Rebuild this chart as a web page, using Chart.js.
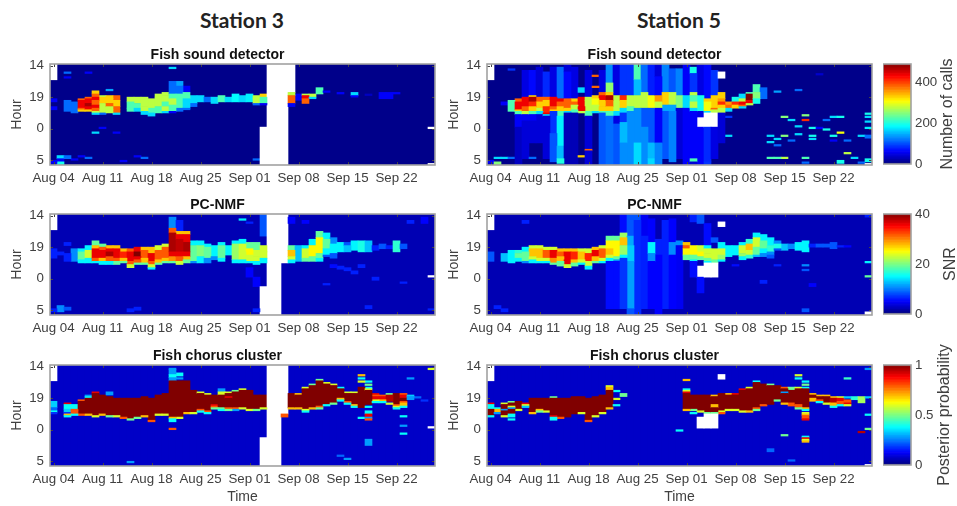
<!DOCTYPE html>
<html><head><meta charset="utf-8">
<script src="https://cdn.jsdelivr.net/npm/chart.js@4"></script>
<style>
html,body{margin:0;padding:0;background:#fff;width:957px;height:506px;overflow:hidden}
canvas{position:absolute;filter:blur(.4px)}
.st{position:absolute;top:7px;width:200px;text-align:center;font:bold 21px Lato,sans-serif;color:#222}
</style></head><body>
<div class="st" style="left:142px">Station 3</div>
<div class="st" style="left:579px">Station 5</div>
<script>
// Each column is one day; each entry "a-b:v" = quarter-hour bins a..b from the top of the axis, colour level v (0-9), w = no data
const dateTicks=["Aug 04","Aug 11","Aug 18","Aug 25","Sep 01","Sep 08","Sep 15","Sep 22"];
const hourTicks=[14,19,24,29];
const hourNames=["14","19","0","5"];
const detector3=[
"0-10:w 22-24:1 27-29:1 61-63:1","58-60:3 60-62:1 62-64:3.5","5-6:2 8-9:1 23-30:2 58-60:2","24-31:2 60-61:1",
"22-23:7 23-28:8 28-29:7 29-30:6 58-59:1","5-6:1 21-22:7 22-25:8 25-27:8.6 27-29:8 29-30:6 59-60:2","17-19:6 19-21:7 21-23:8 23-26:7 26-28:8 28-30:7 30-31:5 31-32:3 43-44:3","20-21:5 21-25:6 25-29:5 29-31:5 31-32:2 40-41:1",
"16-17:2.5 20-22:6 22-25:6 25-27:7 27-29:5 29-31:5","20-23:7 23-27:6 27-29:7 29-31:7 31-32:3 43-44:1","61-62:1","21-24:5 24-28:4 28-30:4",
"21-25:5 25-28:4 28-30:3 58-59:1","21-23:5 23-27:5 27-30:5 30-32:3 59-60:2","22-28:5 28-31:4 31-33:3","19-21:5 21-27:5 27-31:4",
"18-20:5 20-24:5 24-27:4 27-30:5 30-31:3","2-3:3 11-19:2 19-22:4 22-26:5 26-30:4 30-31:1","11-14:2.5 14-19:2 19-28:4 28-30:2","14-18:1 18-22:4 22-28:3 28-29:2",
"20-25:3 25-27:2","20-24:3","21-24:2","21-25:3","20-24:4","21-24:3","19-24:3.3","20-24:3","19-24:3.2",
"20-22:5 22-25:5 25-26:2 60-61:2","19-21:6 21-25:4 25-26:1 40-64:w","0-64:w","0-64:w","0-64:w",
"0-18:w 18-20:5 20-25:7 25-27:1","19-23:1","19-20:5 20-22:8 22-25:7","19-21:5 21-22:3","15-19:4","17-18:1","","18-19:1","","18-20:3 20-21:1","","19-20:.5","","18-22:1","18-22:1","18-19:1","","","","","40-41:w 63-64:w"
];
const nmf3=[
"0-10:w 22-28:1 60-62:1","24-26:1 58-62:2","18-20:1 25-30:1 59-61:1.5","22-30:2",
"22-24:3 24-29:4 29-31:3","20-23:3 23-28:5 28-31:3","17-20:4 20-22:6 22-28:8 28-30:7 30-31:3","19-21:4 21-23:7 23-28:8 28-30:6 30-32:3",
"20-22:6 22-24:8 24-27:8.6 27-30:7 30-32:3","20-22:6 22-28:8 28-30:7 30-32:4","22-24:6 24-28:7.5 28-30:6 30-31:4","22-24:7 24-30:8 30-32:7 32-34:5 60-62:1",
"21-24:8 24-27:9 27-29:8 29-31:7 31-32:4 59-61:1","21-23:6 23-28:7 28-31:6 31-32:4","21-25:6 25-30:8 30-32:7 32-34:5 34-35:3","20-23:5 23-29:7 29-31:6 31-32:4",
"19-21:5 21-28:7 28-30:6 30-31:4","2-9:2 9-12:7 12-24:8.6 24-27:8 27-30:6.5 30-31:4","4-11:1 11-13:6 13-16:8 16-24:8.4 24-27:8 27-30:7 30-32:5","11-13:6 13-18:8 18-24:8.6 24-27:8 27-29:6 29-31:4",
"17-20:3 20-30:4 30-31:2","17-20:3 20-27:4.3 27-31:3","19-21:3 21-28:4 28-31:2","20-27:3 27-29:2","18-20:3 20-28:4 28-30:3","20-26:3",
"17-19:3 19-29:4.5 29-31:3","3-4:3 16-19:3 19-24:5 24-29:5 29-31:3","5-6:1 18-22:4 22-26:5.5 26-30:5 30-31:3 34-40:.7","18-23:4 23-27:5 27-30:5 30-32:3 40-46:.7 60-62:1",
"0-14:1.5 20-24:5 24-28:5 28-31:3 46-64:w","0-64:w","0-64:w","0-31:w","20-23:4 23-27:6 27-29:5 29-31:3 2-6:.7",
"20-30:2.5","20-22:3 22-28:5 28-30:4 4-6:.7","16-20:3 20-27:5.5 27-30:4","11-15:4 15-25:5.5 25-28:4 28-30:3","12-16:3 16-22:4 22-26:3 26-27:1.5 44-45:1","15-19:2 19-25:3 25-28:1.5 32-34:.8","18-24:3 33-35:1",
"18-20:1.5 20-24:2.5 34-36:1","17-23:3 36-38:1","17-24:3.3 32-34:1","17-24:2.5 58-60:1","20-23:1 40-42:1","19-22:1.5","20-22:1","17-24:3.5","19-22:1.5 43-44:1","4-6:1","","2-6:.7","39-40:w 60-61:1"
];
const chorus3=[
"0-10:w 23-27:2.5 27-29:1.5 29-30:3 30-31:1","","24-25:8 25-28:3 28-30:2.5 30-31:1 31-32:6 32-33:3","25-26:3 26-28:3 28-29:7 29-31:7 31-32:3",
"22-23:7 23-31:9 31-32:7","19-20:2 20-21:3 21-31:9 31-32:6","17-18:8 18-32:9 32-33:5","19-31:9 31-32:6",
"17-19:2 20-32:9 32-33:4","21-32:9 32-33:5","21-33:9 33-34:7","21-34:9 34-35:4 61-62:2",
"21-33:9 33-34:4","20-32:9 32-33:6","21-35:9 35-36:7","19-31:9 31-32:5","18-31:9 31-32:5",
"2-3:2 3-6:2 6-8:3 8-10:2 10-33:9 33-34:6 34-36:3 40-41:7","5-7:3 8-9:2 10-33:9 33-34:5","10-30:9 30-31:6","16-30:9 30-31:5",
"17-18:5 18-28:9 28-29:7 29-30:3","18-19:5 19-29:9 29-30:7 30-31:3","19-25:9 25-26:8 26-27:7 27-28:4","15-17:2 17-19:5 19-27:9 27-28:4 28-29:3",
"17-18:5 18-20:9 20-21:8 21-27:9 27-28:7 28-29:4","16-17:4 17-27:9 27-28:7 28-29:2","15-16:5 16-27:9 27-28:5","16-28:9 28-29:5","19-28:9 28-29:4","19-27:9 27-28:5 46-64:w",
"0-64:w","0-64:w","0-31:w 31-33:7","18-27:9 27-28:6","18-19:6 19-27:9 27-28:6","14-15:5 15-28:9 28-29:5 29-30:3","12-13:4 13-27:9 27-28:6","9-10:4 10-26:9 26-27:7 27-28:4",
"11-12:5 12-25:9 25-26:3","12-13:5 13-24:9 24-25:4","14-15:3 15-21:9 21-22:6 22-23:3 57-58:1.5","17-18:5 18-23:9 23-24:7 24-25:3 59-60:2","17-18:5 18-25:9 25-26:6 26-27:3",
"6-7:6 8-9:3 10-11:5 14-27:9 33-34:3","10-11:3 12-13:4 14-15:3 15-16:5 16-25:9 26-27:3 29-31:3 31-33:8 33-34:2 34-35:7 47-51:2","18-19:8 19-20:7 20-22:8 22-23:5 23-24:3","19-20:7 20-22:8 22-23:6 23-24:3","18-19:4 19-23:8.5 24-25:5","18-25:9 25-26:7 26-27:5 27-28:3",
"18-19:7 19-21:8 21-23:9 23-24:7 24-26:6 26-27:3 32-33:3 38-39:2 43-44:3","8-9:2 19-20:2.5 20-22:2","20-21:1.5","22-23:1","2-3:5 39-40:w"
];
const detector5=[
"0-10:w 61-63:1","59-60:3 62-64:4.5","24-26:1 59-60:3","3-4:1.5 23-30:4 59-60:2",
"22-24:7 24-29:8 29-30:6 30-32:4 32-40:1 40-64:.5","4-21:.8 21-22:8 22-27:8 27-30:7 30-32:5 32-36:1 36-60:.7","4-20:1.1 20-21:6 21-24:8.6 24-27:7.5 27-30:6 30-32:4 32-36:1 36-50:.7 59-60:2","2-21:.7 21-24:7 24-28:6 28-30:5 30-32:3 32-50:.7",
"5-21:1.4 21-23:7 23-27:6 27-31:7.5 31-32:8 32-33:3 33-60:.7","2-21:.8 21-22:8 22-27:8 27-29:7 29-30:6 30-44:1.5 44-62:1.8","2-22:2 22-24:8 24-27:7 27-30:6 30-33:4 33-52:3.2 52-60:2.7 60-63:3.6","0-5:.7 5-22:1.1 22-24:7 24-28:7 28-30:6 30-31:3 31-64:.4",
"2-22:.8 22-24:6 24-26:7 26-29:5 29-31:4 31-64:.4","15-18:3 21-24:8 24-27:8 27-30:8 30-31:5 58-59:6","4-21:.8 21-23:5 23-30:5 30-33:4 33-54:.7 54-55:7 55-64:.7","7-8:7 14-15:7 20-22:6 22-26:5.5 26-30:5 30-31:3",
"4-18:.8 18-20:7 20-23:8 23-27:6 27-30:6 30-31:4 31-64:1.8","0-12:2.3 12-18:4.6 18-20:6 20-23:8.6 23-27:7 27-30:6 30-33:4 33-64:2","0-20:.8 20-30:5 30-33:3 33-38:.8 38-64:1.8","0-20:1.5 20-23:7.5 23-28:6 28-31:3 31-37:1.5 37-50:2.7 50-64:2.3",
"0-20:1.5 20-23:5 23-27:5 27-30:4 30-64:2.3","0-10:4 10-20:2.7 20-28:5 28-50:2.3 50-64:3","0-18:2 18-28:5 28-40:1.8 40-64:2.3","0-20:1.3 20-28:5.5 28-50:1.8 50-60:2.7 60-64:3",
"0-8:.7 8-20:1.1 20-24:6.5 24-28:5 28-50:1 50-64:2.2","0-18:2.2 18-26:6 26-30:2.5 30-60:1.8","3-18:1.8 18-26:5 26-30:2.5 30-62:2.2","3-20:2.2 20-28:4.5 28-60:.7",
"0-20:1 20-28:3 28-64:1","2-6:3.5 6-18:1.5 18-20:5 20-24:4 24-28:5 28-30:3 30-60:1 60-62:4 62-64:.7","0-20:.8 20-30:3.5 30-34:.8 34-40:w 40-64:1","0-22:1.1 22-24:6 24-30:5.5 30-31:3 31-40:w 40-62:1.4 62-64:1.5",
"4-20:1.5 20-28:6 28-29:7 29-31:5 31-40:w 40-60:.8","5-9:w 18-22:6 22-24:6.5 24-26:7.5 26-28:6 28-31:5 31-50:.7","24-26:6.5 26-28:7 28-30:3 33-34:1.5 45-46:3","21-24:3.5 24-26:7.5 26-28:6",
"19-22:3 22-24:5 24-26:8 26-27:7 27-28:3","18-19:4 19-23:9 23-25:8 25-26:5","13-18:4 18-22:4.5 22-25:3.5","15-22:2","45-46:3 49-50:3 59-60:4","17-18:2.5 47-48:3 51-52:2 59-60:4",
"33-34:4.5 45-46:4.5 59-60:5","35-36:3 48-49:2","16-17:2 39-40:3 44-45:3","32-33:4.5 35-36:7.5 59-60:4 62-63:2","40-41:3.5 45-46:3.5 47-48:3","6-7:.6 40-41:1","35-36:2 41-42:3.5",
"33-34:3 45-46:3.5 48-49:1","33-34:3.5 43-44:5.5 61-63:3.5","48-49:2 56-57:5","59-60:3","45-46:3 62-63:2","31-32:3.5 33-34:3 36-37:3 40-41:3.2 45-47:2 60-62:3.5 63-64:w"
];
const nmf5=[
"0-10:w 24-30:1.5","58-60:1","25-30:2.5 60-62:1","23-31:3",
"23-25:3.5 25-28:4 28-30:3","4-6:1 21-24:3 24-30:4 30-31:2","20-22:5 22-27:6 27-29:5 29-31:3","20-22:5 22-28:6 28-30:5 30-31:3",
"21-23:5 23-28:7 28-30:5 30-31:3","21-23:5 23-28:8 28-31:6.5 31-32:4","22-24:6 24-27:7 27-30:6 30-33:4","22-24:6 24-29:8 29-32:8 32-34:5",
"22-24:6 24-29:7.5 29-31:6 31-33:4","22-24:5 24-29:6 29-31:5 31-32:3","22-25:5 25-30:7.5 30-33:5 33-35:3","21-23:6 23-27:8 27-30:6 30-31:4",
"20-22:5 22-28:7 28-30:5 30-31:3","14-17:4 17-22:5.5 22-26:6 26-28:5 28-30:3 30-60:.8","14-17:4 17-27:5.5 27-29:4 29-30:2 30-60:.8","0-12:.8 12-15:4.5 15-20:6 20-26:4.5 26-28:3 28-60:1.2",
"0-14:1.5 14-20:2.3 20-30:2.6 30-60:2.2 60-64:1.5","0-4:1.5 4-64:1.1","0-14:.6 14-60:1","3-18:.7 18-25:3 25-30:2 30-60:.7","16-26:1 26-64:.7","4-60:1","3-18:.7 18-26:2 26-60:.7","17-20:2 20-60:.6",
"18-20:6 20-22:7 22-26:5.5 26-29:4","0-5:1 20-22:5.5 22-26:5.5 26-29:4 29-30:3 30-40:.8","0-6:1.5 20-24:5 24-27:5.5 27-29:4 33-40:w 40-50:.8","6-20:.8 20-22:3 22-25:5 25-28:5 28-30:4 30-31:3 31-40:w",
"15-18:1.5 22-26:5 26-29:5 29-31:4 31-40:w","5-8:w 18-22:3 22-26:5 26-29:4.5 29-30:3","20-27:3","20-26:3 32-33:.8","18-20:3 20-25:5 25-27:4.5 27-29:3","16-19:3.5 19-23:6 23-26:5 26-28:3.5","12-15:3 15-21:5 21-26:4 26-27:2.5",
"13-17:3 17-22:4 22-25:3 25-27:2 42-44:1","15-20:3 20-24:3.5 24-26:2 26-28:1.5","17-19:2 19-22:3.3 22-23:1.5 32-33:1","19-23:2.5","19-22:2","18-23:3","17-24:3 32-33:2 35-36:1.5 60-62:1.5",
"19-21:1 44-46:.7","19-21:1.5","19-21:1.5","18-22:1.5","20-21:1","20-21:.7","","","0-2:1 30-31:3 39-40:4 62-64:w"
];
const chorus5=[
"0-10:w 24-25:8 25-28:3 28-32:9 32-33:3","27-28:3 28-29:6 29-30:6 30-31:2","24-25:5 25-28:9 28-29:2 29-32:9 32-33:5","23-24:4 24-26:9 26-27:5 27-28:2 28-31:9 31-33:3 34-35:3",
"23-28:9 28-29:5","24-25:8 25-26:5 26-27:2.5","21-30:9 30-31:6","21-28:9 28-29:6 29-30:4","21-29:9 29-30:5","20-21:4 21-32:9 32-33:8 33-35:3",
"21-33:9 33-34:7","21-33:9","20-31:9","20-30:9 30-31:5","21-35:9 35-36:7","20-32:9 32-33:5","19-30:9 30-31:5","13-14:5 14-16:6 16-27:9 27-28:6","16-17:3 21-22:5 25-26:3","18-20:4",
"","","","","","","","41-42:3","9-10:6 15-16:3 16-17:5 17-18:8 18-28:9 28-29:6","19-28:9 28-29:4 30-31:3","19-29:9 29-30:5 33-40:w","19-30:9 30-31:4 31-40:w",
"19-20:6 20-25:9 25-27:6 27-30:9 30-31:4 31-40:w","6-9:w 18-29:9 29-30:5 30-31:7","18-19:6 19-28:9 28-29:5","18-19:8 19-28:9 28-29:5","15-16:8 16-29:9 29-30:5","14-15:5 15-29:9 29-30:6",
"10-11:3 11-27:9 27-28:7 28-29:4","12-25:9 25-26:7","12-13:4 13-25:9 53-55:1.5","13-22:9 22-23:4","14-15:7 15-17:9 17-18:2 18-24:9 24-25:6 44-45:4","14-16:4 16-24:9 24-26:7 60-61:1.5",
"6-7:5 8-9:3 14-15:5 15-25:9 25-27:7 27-28:4","10-11:3 12-13:4 14-15:3 15-27:9 27-28:6 28-29:3 30-31:5 31-32:6 32-34:7 34-35:8 45-46:3 46-47:8 47-48:5 48-49:6","18-19:6 19-21:9 21-23:6","19-20:6 20-22:9 22-23:7 23-24:3","19-20:6 20-24:9 24-25:5",
"20-21:6 21-24:8.5 24-26:6 26-27:3","20-21:5 21-23:8 23-25:7 25-26:3","8-9:3.5 20-21:2.5 22-24:7 24-25:8 25-26:5","20-22:3.3","20-24:4.5 42-43:8.5","2-3:2 20-21:2.5 31-32:3 40-41:4 63-64:w"
];
const barTicks=[[0,200,400],[0,20,40],[0,0.5,1]];
const barMax=[490,40,1];
const barNames=["Number of calls","SNR","Posterior probability"];
const barNameX=[948,951,945];
const panelTitles=["Fish sound detector","PC-NMF","Fish chorus cluster"];
const dayIndex=detector3.map((_,i)=>i);
const axisTop=13.75, axisBottom=29.75;

function jet(f){
  f=Math.max(0,Math.min(1,f));
  const c=t=>Math.round(255*Math.max(0,Math.min(1,1.5-Math.abs(4*f-t))));
  return `rgb(${c(3)},${c(2)},${c(1)})`;
}
const TXT='#404040',FONT='"Liberation Sans",Arial,sans-serif';
const frame={id:'frame',afterDatasetsDraw(ch){
  const {ctx,chartArea:a,scales}=ch;
  ctx.save();
  ctx.strokeStyle='#444';ctx.lineWidth=1;
  ctx.beginPath();
  const L=3;
  if(scales.x&&scales.x.options.display){
    scales.x.ticks.forEach((t,i)=>{ if(t.label==='')return;
      const p=Math.round(scales.x.getPixelForTick(i))+.5;
      ctx.moveTo(p,a.top);ctx.lineTo(p,a.top+L);ctx.moveTo(p,a.bottom);ctx.lineTo(p,a.bottom-L);});
    scales.y.ticks.forEach((t,i)=>{
      const p=Math.round(scales.y.getPixelForTick(i))+.5;
      ctx.moveTo(a.left,p);ctx.lineTo(a.left+L,p);ctx.moveTo(a.right,p);ctx.lineTo(a.right-L,p);});
  }
  ctx.stroke();
  ctx.strokeStyle='#a2a2a2';ctx.lineWidth=1.6;
  ctx.strokeRect(a.left,a.top,a.right-a.left,a.bottom-a.top);
  ctx.restore();
}};
function mk(left,top,w,h){
  const c=document.createElement('canvas');
  c.width=w;c.height=h;c.style.left=left+'px';c.style.top=top+'px';
  c.style.width=w+'px';c.style.height=h+'px';
  document.body.appendChild(c);return c;
}
function heat(left,top,title,cols,base,last){
  const parsed=cols.map(s=>s.trim()?s.trim().split(/\s+/).map(p=>{
    const m=p.match(/^(\d+)-(\d+):(.+)$/);
    return {a:axisTop+m[1]/4,b:axisTop+m[2]/4,v:m[3]==='w'?null:parseFloat(m[3])};}):[]);
  const depth=Math.max(...parsed.map(p=>p.length));
  const color=v=>v===null?'#ffffff':jet(base+v/9*(1-base));
  const datasets=[{order:1000,data:cols.map(()=>[axisTop,axisBottom]),backgroundColor:cols.map(()=>color(0))}];
  for(let k=0;k<depth;k++){
    datasets.push({
      order:depth-k,
      data:parsed.map(p=>p[k]?[p[k].a,p[k].b]:null),
      backgroundColor:parsed.map(p=>p[k]?color(p[k].v):'rgba(0,0,0,0)')});
  }
  const H=last?40:24;
  new Chart(mk(left,top-20,442,20+101+H),{
    type:'bar',
    data:{labels:dayIndex,datasets},
    plugins:[frame],
    options:{
      responsive:false,animation:false,devicePixelRatio:1,events:[],
      layout:{padding:{left:0,right:7,top:0,bottom:0}},
      datasets:{bar:{barPercentage:1,categoryPercentage:1,grouped:false,borderWidth:0}},
      plugins:{legend:{display:false},tooltip:{enabled:false},
        title:{display:true,text:title,color:'#111',font:{family:FONT,size:14,weight:'bold',lineHeight:1},padding:{top:4,bottom:2}}},
      scales:{
        x:{type:'category',offset:true,grid:{display:false,drawTicks:false},border:{display:false},
          afterFit:s=>{s.height=H},
          ticks:{autoSkip:false,maxRotation:0,minRotation:0,padding:5,color:TXT,font:{family:FONT,size:13.3},
            callback:(v,i)=>i%7===0?dateTicks[i/7]:''},
          title:{display:!!last,text:'Time',color:TXT,padding:0,font:{family:FONT,size:14}}},
        y:{type:'linear',reverse:true,min:axisTop,max:axisBottom,grid:{display:false,drawTicks:false},border:{display:false},
          afterFit:s=>{s.width=50},
          afterBuildTicks:s=>{s.ticks=hourTicks.map(value=>({value}))},
          ticks:{padding:6,color:TXT,font:{family:FONT,size:13.3},callback:v=>hourNames[hourTicks.indexOf(v)]},
          title:{display:true,text:'Hour',color:TXT,padding:9,font:{family:FONT,size:14}}}
      }
    }
  });
}
function colorbar(top,idx){
  const max=barMax[idx],N=64,labels=[''];
  const datasets=[];
  for(let k=0;k<N;k++){
    datasets.push({data:[[k/N*max,(k+1)/N*max]],backgroundColor:jet((k+.5)/N)});
  }
  const nameLabel={id:'nameLabel',afterDraw(ch){
    const c=ch.ctx;c.save();c.translate(barNameX[idx]-883,ch.chartArea.top+50);c.rotate(-Math.PI/2);
    c.textAlign='center';c.textBaseline='middle';c.fillStyle=TXT;c.font='16px '+FONT;
    c.fillText(barNames[idx],0,0);c.restore();
  }};
  new Chart(mk(883,top-45,74,190),{
    type:'bar',data:{labels,datasets},plugins:[frame,nameLabel],
    options:{
      responsive:false,animation:false,devicePixelRatio:1,events:[],
      layout:{padding:{top:45,bottom:45,left:0,right:0}},
      datasets:{bar:{barPercentage:1,categoryPercentage:1,grouped:false,borderWidth:0}},
      plugins:{legend:{display:false},tooltip:{enabled:false}},
      scales:{
        x:{display:false},
        y:{type:'linear',position:'right',min:0,max,grid:{display:false,drawTicks:false},border:{display:false},
          afterFit:s=>{s.width=46},
          afterBuildTicks:s=>{s.ticks=barTicks[idx].map(value=>({value}))},
          ticks:{padding:4,color:TXT,font:{family:FONT,size:13.3},callback:v=>String(v)}}
      }
    }
  });
}
heat(0,64,panelTitles[0],detector3,0.01,false);
heat(0,214,panelTitles[1],nmf3,0.05,false);
heat(0,365,panelTitles[2],chorus3,0.07,true);
heat(437,64,panelTitles[0],detector5,0.01,false);
heat(437,214,panelTitles[1],nmf5,0.05,false);
heat(437,365,panelTitles[2],chorus5,0.07,true);
colorbar(64,0);colorbar(214,1);colorbar(365,2);
</script>
</body></html>
